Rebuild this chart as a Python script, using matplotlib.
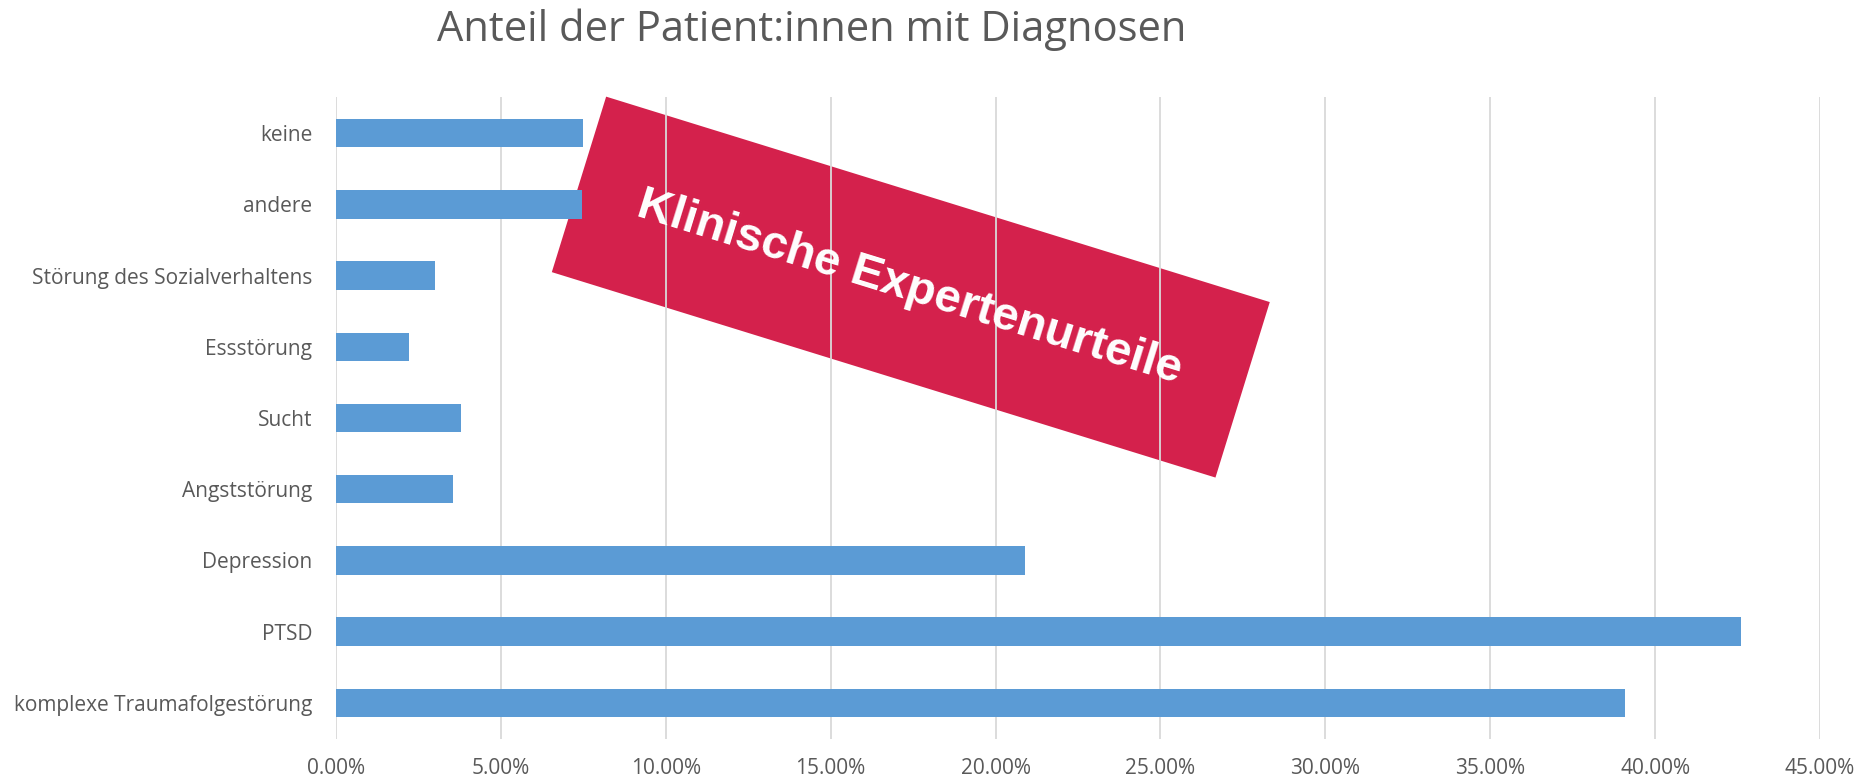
import numpy as np
import matplotlib.pyplot as plt
from matplotlib.patches import Polygon

# categories top to bottom, values in percent
categories = ["keine", "andere", "Störung des Sozialverhaltens", "Essstörung",
              "Sucht", "Angststörung", "Depression", "PTSD",
              "komplexe Traumafolgestörung"]
values = [7.5, 7.45, 3.0, 2.2, 3.8, 3.55, 20.9, 42.6, 39.1]
xticks = np.arange(0, 46, 5)

title = "Anteil der Patient:innen mit Diagnosen"
stamp_text = "Klinische Expertenurteile"

plt.rcParams['font.family'] = ['Open Sans', 'DejaVu Sans']

W, H = 1862, 783
fig = plt.figure(figsize=(W / 100, H / 100), dpi=100)
ax = fig.add_axes([336 / W, 1 - 738.6 / H, (1820 - 336) / W, (738.6 - 97.4) / H])

y = np.arange(len(categories))
ax.barh(y, values, height=0.4, color='#5b9bd5', zorder=3)
ax.set_ylim(len(categories) - 0.5, -0.5)
ax.set_xlim(0, 45)
ax.set_yticks(y)
ax.set_yticklabels(categories)
ax.set_xticks(xticks)
ax.set_xticklabels([f"{v:.2f}%" for v in xticks])
ax.tick_params(axis='both', length=0, labelsize=15, colors='#595959')
ax.tick_params(axis='y', pad=17)
ax.tick_params(axis='x', pad=14)
ax.grid(axis='x', color='#d9d9d9', linewidth=1.3, zorder=2)
ax.set_axisbelow(False)
for s in ax.spines.values():
    s.set_visible(False)

# red stamp over the chart (figure pixel space)
cx, cy = 910.8, H - 287.1
L, S = 694.7, 183.7
ang = np.deg2rad(-17.2)
u = np.array([np.cos(ang), np.sin(ang)])
v = np.array([-np.sin(ang), np.cos(ang)])
c = np.array([cx, cy])
pts = [c - u * L / 2 + v * S / 2, c + u * L / 2 + v * S / 2,
       c + u * L / 2 - v * S / 2, c - u * L / 2 - v * S / 2]
pts = [(p[0] / W, p[1] / H) for p in pts]
fig.patches.append(Polygon(pts, closed=True, transform=fig.transFigure,
                           facecolor='#d4214c', edgecolor='none', zorder=1))
ax.patch.set_alpha(0)
ax.set_zorder(2)

fig.text(909.6 / W, 1 - 287.4 / H, stamp_text, rotation=-17.2,
         rotation_mode='anchor', ha='center', va='center',
         fontsize=34, fontweight='bold', color='white',
         family=['Liberation Sans', 'DejaVu Sans'], zorder=5)

fig.text(812 / W, 1 - 30 / H, title, ha='center', va='center',
         fontsize=30, color='#595959')

fig.savefig('out.png', dpi=100)
